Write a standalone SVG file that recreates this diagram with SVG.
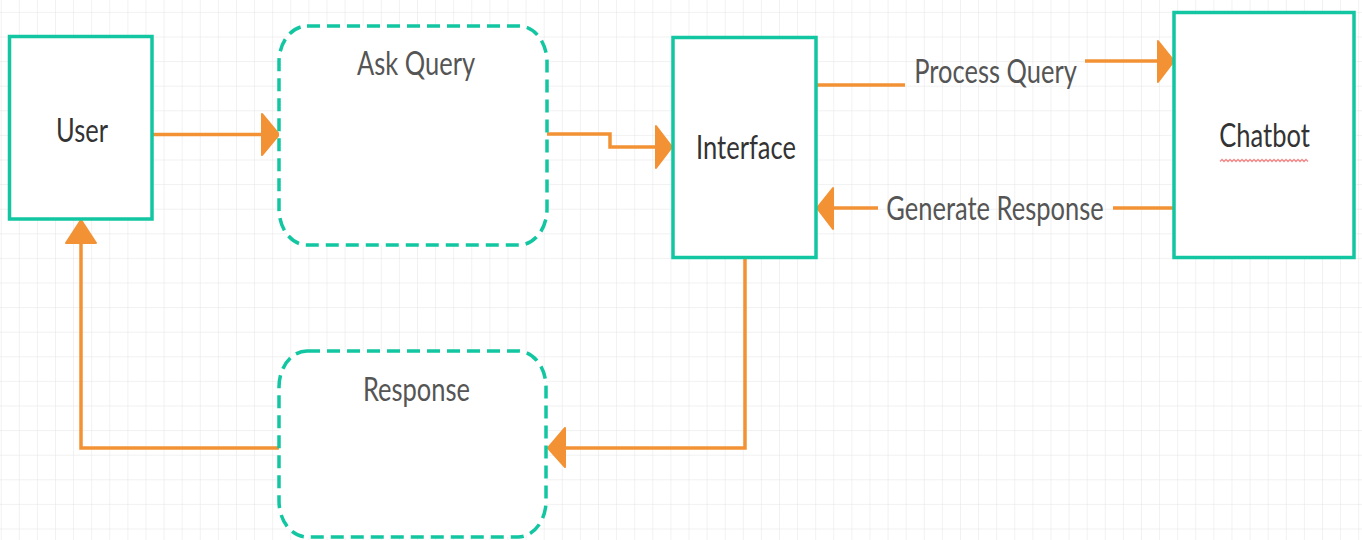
<svg xmlns="http://www.w3.org/2000/svg" width="1362" height="540" viewBox="0 0 1362 540">
  <defs>
    <pattern id="grid" x="0.7" y="11.9" width="18.1" height="24.6" patternUnits="userSpaceOnUse">
      <path d="M0 0 V24.6 M0 0 H18.1" fill="none" stroke="#e4e4e4" stroke-width="1"/>
    </pattern>
    <style>
      .box { fill: #ffffff; stroke: #12c6a2; stroke-width: 3.5; }
      .dash { fill: #ffffff; stroke: #12c6a2; stroke-width: 3.5; stroke-dasharray: 13 7; }
      .wire { fill: none; stroke: #f39234; stroke-width: 3.5; stroke-linejoin: miter; }
      .head { fill: #f39234; stroke: #f39234; stroke-width: 2; stroke-linejoin: round; }
      .node-text { font-family: Lato, "Liberation Sans", sans-serif; font-size: 25.5px; fill: #333333; text-anchor: middle; }
      .label { font-family: Lato, "Liberation Sans", sans-serif; font-size: 25.5px; fill: #555555; text-anchor: middle; }
    </style>
  </defs>

  <!-- canvas -->
  <rect width="1362" height="540" fill="#ffffff"/>
  <rect width="1362" height="540" fill="url(#grid)"/>

  <!-- connectors -->
  <g id="connectors">
    <!-- User to Ask Query -->
    <path class="wire" d="M153 134.5 H262"/>
    <polygon class="head" points="262,114 279,134.5 262,155"/>
    <!-- Ask Query to Interface -->
    <path class="wire" d="M547 134 H610 V147 H656"/>
    <polygon class="head" points="656,126 672,147 656,168"/>
    <!-- Interface to Chatbot: Process Query -->
    <path class="wire" d="M816 85 H905"/>
    <path class="wire" d="M1085 61 H1158"/>
    <polygon class="head" points="1158,41 1174,61 1158,82"/>
    <!-- Chatbot to Interface: Generate Response -->
    <path class="wire" d="M1174 208 H1113"/>
    <path class="wire" d="M878 208 H833"/>
    <polygon class="head" points="833,188 817,208 833,229"/>
    <!-- Interface to Response -->
    <path class="wire" d="M745 258 V448 H565"/>
    <polygon class="head" points="565,428 548,448 565,467"/>
    <!-- Response to User -->
    <path class="wire" d="M279 448 H81 V243"/>
    <polygon class="head" points="66,243 81,220 96,243"/>
  </g>

  <!-- nodes -->
  <g id="user">
    <rect class="box" x="9.5" y="36.5" width="142.5" height="182.5"/>
    <text class="node-text" transform="translate(82 142) scale(1 1.32)">User</text>
  </g>

  <g id="ask-query">
    <rect class="dash" x="279" y="26" width="268" height="219" rx="28" ry="36"/>
    <text class="label" transform="translate(416 75) scale(1 1.32)">Ask Query</text>
  </g>

  <g id="interface">
    <rect class="box" x="673" y="37.5" width="143" height="220"/>
    <text class="node-text" transform="translate(746 159) scale(1 1.32)">Interface</text>
  </g>

  <g id="chatbot">
    <rect class="box" x="1174" y="12.5" width="180" height="245"/>
    <text class="node-text" transform="translate(1264.5 146.5) scale(1 1.32)">Chatbot</text>
    <!-- spell-check squiggle under the name -->
    <path d="M1220 161.5 l2 -2 l2 2 l2 -2 l2 2 l2 -2 l2 2 l2 -2 l2 2 l2 -2 l2 2 l2 -2 l2 2 l2 -2 l2 2 l2 -2 l2 2 l2 -2 l2 2 l2 -2 l2 2 l2 -2 l2 2 l2 -2 l2 2 l2 -2 l2 2 l2 -2 l2 2 l2 -2 l2 2 l2 -2 l2 2 l2 -2 l2 2 l2 -2 l2 2 l2 -2 l2 2 l2 -2 l2 2 l2 -2 l2 2 l2 -2 l2 2" fill="none" stroke="#f28b8b" stroke-width="1.4"/>
  </g>

  <g id="response">
    <rect class="dash" x="279" y="351" width="267" height="186" rx="28" ry="36"/>
    <text class="label" transform="translate(416.5 401) scale(1 1.32)">Response</text>
  </g>

  <!-- connector labels -->
  <g id="connector-labels">
    <text class="label" transform="translate(995.5 83) scale(1 1.32)">Process Query</text>
    <text class="label" transform="translate(995 220) scale(1 1.32)">Generate Response</text>
  </g>
</svg>
